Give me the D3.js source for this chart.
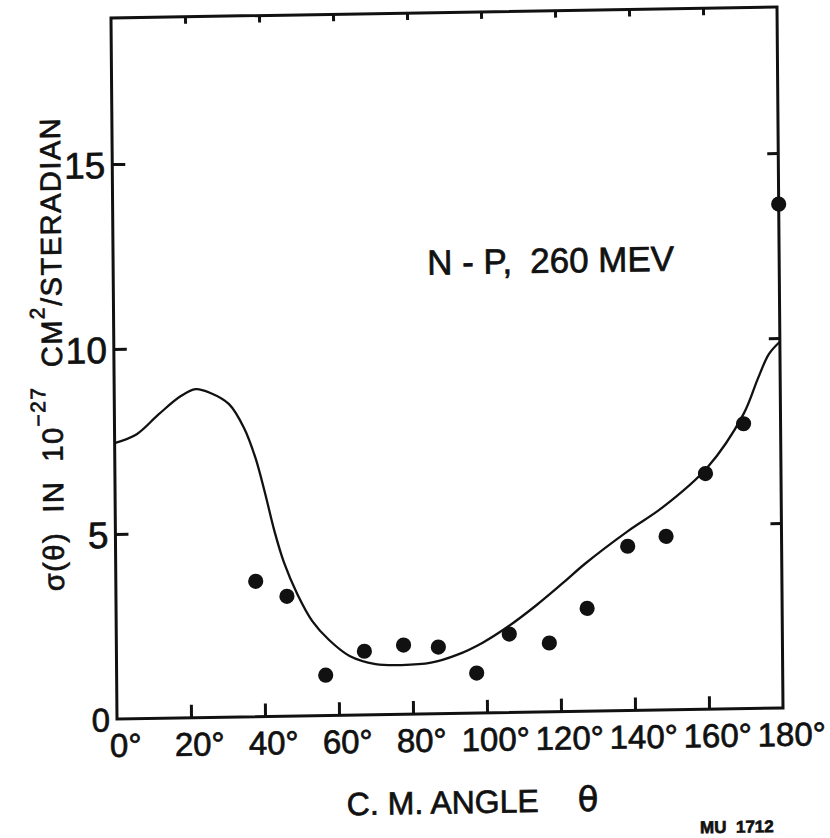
<!DOCTYPE html>
<html>
<head>
<meta charset="utf-8">
<script src="https://cdn.jsdelivr.net/npm/d3@7"></script>
<style>
body { margin: 0; background: #fff; }
svg text { font-family: "Liberation Sans", Arial, sans-serif; white-space: pre; stroke: #111; stroke-width: 0.7px; }
</style>
</head>
<body>
<div id="canvas"></div>
<script>
// ----------------------------------------------------------
// DATA -----------------------------------------------------
// ----------------------------------------------------------
// theory curve (angle in deg, cross section)
var curve_angle = [0, 6, 12, 18, 22, 26, 31, 35, 38, 40.5, 43, 45.5, 49, 53, 57.5, 63, 70, 77, 85, 92, 99, 106, 113.5, 120.5, 127, 138.5, 148, 160, 170, 174, 177, 180];
var curve_value = [7.46, 7.69, 8.22, 8.70, 8.88, 8.77, 8.46, 7.81, 7.00, 6.05, 5.00, 4.15, 3.30, 2.56, 2.04, 1.60, 1.37, 1.33, 1.38, 1.58, 1.90, 2.33, 2.88, 3.45, 4.00, 4.85, 5.48, 6.52, 7.96, 8.92, 9.57, 9.90];

// measured points
var point_angle = [37.8, 46.2, 56.5, 67, 77.6, 87, 97.3, 106.2, 117, 127.3, 138.4, 148.8, 159.6, 170, 180];
var point_value = [3.66, 3.24, 1.09, 1.72, 1.87, 1.80, 1.08, 2.12, 1.86, 2.78, 4.44, 4.69, 6.37, 7.70, 13.62];

// tick labels
var x_ticks = [0, 20, 40, 60, 80, 100, 120, 140, 160, 180];
var y_ticks = [0, 5, 10, 15];

var data_set =
{
container_width: 830,
container_height: 838,
plot_width: 666,
plot_height: 701,
y_top: 18.95,
color_ink: "#111"
};

// ----------------------------------------------------------
// STRUCTURE ------------------------------------------------
// ----------------------------------------------------------
var width = data_set.plot_width;
var height = data_set.plot_height;
var ink = data_set.color_ink;

var container = d3.select("#canvas").append("svg")
.attr("width", data_set.container_width)
.attr("height", data_set.container_height)
.style("background-color", "#fff");

// the scan is slightly skewed - mimic it on the whole plot group
var gfx_group = container.append("g")
.attr("class", "gfx_group")
.attr("transform", "matrix(1,-0.01657,0.00856,1,111,18)");

// scales
var xScale = d3.scaleLinear()
.domain([0, 180])
.range([0, width]);
var yScale = d3.scaleLinear()
.domain([0, data_set.y_top])
.range([height, 0]);

// ----------------------------------------------------------
// AXES -----------------------------------------------------
// ----------------------------------------------------------
// bottom
var axis_bottom = gfx_group.append("g")
.attr("transform", `translate(0, ${height})`)
.call(d3.axisBottom(xScale)
.tickValues(x_ticks)
.tickSize(-13)
.tickSizeOuter(0)
.tickFormat((d) => d + "°"));
axis_bottom.select(".domain").remove();
axis_bottom.selectAll("line")
.attr("stroke", ink)
.attr("stroke-width", 3)
.attr("display", (d) => (d == 0 || d == 180) ? "none" : null);
axis_bottom.selectAll("text")
.attr("y", 38)
.attr("dy", null)
.attr("dx", 8)
.attr("fill", ink)
.style("font-size", "33px");

// top
var axis_top = gfx_group.append("g")
.call(d3.axisTop(xScale)
.tickValues(x_ticks.slice(1, -1))
.tickSize(-7)
.tickSizeOuter(0)
.tickFormat(""));
axis_top.select(".domain").remove();
axis_top.selectAll("line").attr("stroke", ink).attr("stroke-width", 3);

// left
var axis_left = gfx_group.append("g")
.call(d3.axisLeft(yScale)
.tickValues(y_ticks)
.tickSize(-13)
.tickSizeOuter(0)
.tickPadding(7));
axis_left.select(".domain").remove();
axis_left.selectAll("line")
.attr("stroke", ink)
.attr("stroke-width", 3)
.attr("display", (d) => d == 0 ? "none" : null);
axis_left.selectAll("text")
.attr("dy", "0.36em")
.attr("fill", ink)
.style("font-size", (d) => d == 0 ? "33px" : "37px");

// right
var axis_right = gfx_group.append("g")
.attr("transform", `translate(${width}, 0)`)
.call(d3.axisRight(yScale)
.tickValues(y_ticks.slice(1))
.tickSize(-11)
.tickSizeOuter(0)
.tickFormat(""));
axis_right.select(".domain").remove();
axis_right.selectAll("line").attr("stroke", ink).attr("stroke-width", 3);

// frame
gfx_group.append("rect")
.attr("x", 0)
.attr("y", 0)
.attr("width", width)
.attr("height", height)
.attr("fill", "none")
.attr("stroke", ink)
.attr("stroke-width", 3);

// ----------------------------------------------------------
// GFX ------------------------------------------------------
// ----------------------------------------------------------
var curve_data = curve_angle.map((a, i) => [a, curve_value[i]]);
var point_data = point_angle.map((a, i) => [a, point_value[i]]);

var line = d3.line()
.x((d) => xScale(d[0]))
.y((d) => yScale(d[1]))
.curve(d3.curveCatmullRom.alpha(0.5));

gfx_group.append("path")
.datum(curve_data)
.attr("d", line)
.attr("fill", "none")
.attr("stroke", ink)
.attr("stroke-width", 2.3);

gfx_group.selectAll(".gfx_point")
.data(point_data)
.enter()
.append("circle")
.attr("class", "gfx_point")
.attr("cx", (d) => xScale(d[0]))
.attr("cy", (d) => yScale(d[1]))
.attr("r", 7.6)
.attr("fill", ink);

// ----------------------------------------------------------
// TEXT -----------------------------------------------------
// ----------------------------------------------------------
// y title
var y_title = gfx_group.append("text")
.attr("transform", "translate(-52, 335) rotate(-90)")
.attr("text-anchor", "middle")
.attr("fill", ink)
.style("font-size", "29px")
.style("letter-spacing", "1.5px");
y_title.append("tspan").text("σ(θ)  IN  10");
y_title.append("tspan").attr("dy", -17).style("font-size", "21px").text("−27");
y_title.append("tspan").attr("dy", 17).text("  CM");
y_title.append("tspan").attr("dy", -17).style("font-size", "21px").text("2");
y_title.append("tspan").attr("dy", 17).text("/STERADIAN");

// x title
gfx_group.append("text")
.attr("x", 229)
.attr("y", 801)
.attr("fill", ink)
.style("font-size", "32px")
.text("C. M. ANGLE");
gfx_group.append("text")
.attr("x", 460)
.attr("y", 801)
.attr("fill", ink)
.style("font-size", "34px")
.style("font-family", "DejaVu Sans")
.text("θ");

// annotation
gfx_group.append("text")
.attr("x", 314)
.attr("y", 262)
.attr("fill", ink)
.style("font-size", "35px")
.text("N - P,");
gfx_group.append("text")
.attr("x", 417)
.attr("y", 262)
.attr("fill", ink)
.style("font-size", "35px")
.text("260 MEV");

// figure id
gfx_group.append("text")
.attr("x", 582)
.attr("y", 825)
.attr("fill", ink)
.style("font-size", "17px")
.style("font-weight", "bold")
.text("MU  1712");
</script>
</body>
</html>
